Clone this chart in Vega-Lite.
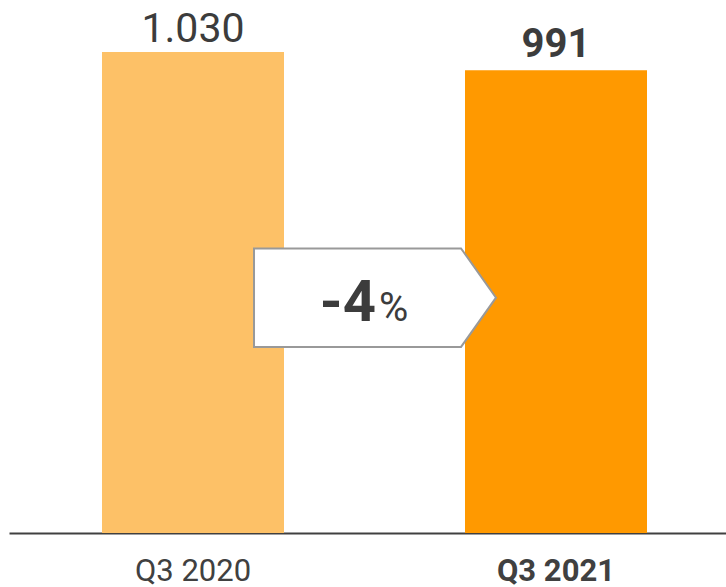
{
  "$schema": "https://vega.github.io/schema/vega-lite/v6.json",
  "width": 717,
  "height": 533,
  "autosize": {"type": "none"},
  "padding": {"left": 9, "top": 0, "right": 0, "bottom": 54},
  "background": "#ffffff",
  "config": {
    "view": {"stroke": null},
    "locale": {
      "number": {"decimal": ",", "thousands": ".", "grouping": [3], "currency": ["", " €"]}
    },
    "axisX": {
      "title": null,
      "labelAngle": 0,
      "ticks": false,
      "tickSize": 0,
      "domainColor": "#404040",
      "domainWidth": 2,
      "labelFont": "Roboto",
      "labelFontSize": 31,
      "labelColor": "#404040",
      "labelBaseline": "alphabetic",
      "labelPadding": 47
    }
  },
  "datasets": {
    "quarters": [
      {"quarter": "Q3 2020", "value": 1030},
      {"quarter": "Q3 2021", "value": 991}
    ],
    "change": [
      {"quarter": "Q3 2020", "pos": 504, "delta": "-4", "unit": "%"}
    ]
  },
  "layer": [
    {
      "data": {"name": "quarters"},
      "mark": {"type": "bar"},
      "encoding": {
        "x": {
          "field": "quarter",
          "type": "nominal",
          "sort": null,
          "scale": {"paddingInner": 0.4986, "paddingOuter": 0.2369, "align": 0.5407},
          "axis": {
            "title": null,
            "labelFontWeight": {
              "condition": {"test": "datum.value === 'Q3 2021'", "value": "bold"},
              "value": "normal"
            }
          }
        },
        "y": {
          "field": "value",
          "type": "quantitative",
          "scale": {"domain": [0, 1141.4], "nice": false, "zero": true},
          "axis": null
        },
        "color": {
          "field": "quarter",
          "type": "nominal",
          "scale": {"domain": ["Q3 2020", "Q3 2021"], "range": ["#FDC167", "#FF9900"]},
          "legend": null
        }
      }
    },
    {
      "data": {"name": "quarters"},
      "transform": [{"filter": "datum.quarter === 'Q3 2020'"}],
      "mark": {
        "type": "text",
        "font": "Roboto",
        "fontSize": 41,
        "fontWeight": "normal",
        "color": "#3c3c3c",
        "baseline": "alphabetic",
        "dy": -10
      },
      "encoding": {
        "x": {"field": "quarter", "type": "nominal", "sort": null},
        "y": {"field": "value", "type": "quantitative"},
        "text": {"field": "value", "type": "quantitative", "format": ",d"}
      }
    },
    {
      "data": {"name": "quarters"},
      "transform": [{"filter": "datum.quarter === 'Q3 2021'"}],
      "mark": {
        "type": "text",
        "font": "Roboto",
        "fontSize": 40,
        "fontWeight": "bold",
        "color": "#3c3c3c",
        "baseline": "alphabetic",
        "dy": -13
      },
      "encoding": {
        "x": {"field": "quarter", "type": "nominal", "sort": null},
        "y": {"field": "value", "type": "quantitative"},
        "text": {"field": "value", "type": "quantitative", "format": ",d"}
      }
    },
    {
      "data": {"name": "change"},
      "mark": {
        "type": "point",
        "shape": "M-1,-0.407L0.711,-0.407L1,0L0.711,0.407L-1,0.407Z",
        "size": 58564,
        "filled": true,
        "fill": "#ffffff",
        "stroke": "#999999",
        "strokeWidth": 2,
        "opacity": 1
      },
      "encoding": {
        "x": {"field": "quarter", "type": "nominal", "sort": null, "bandPosition": 1.5},
        "y": {"field": "pos", "type": "quantitative"}
      }
    },
    {
      "data": {"name": "change"},
      "mark": {
        "type": "text",
        "font": "Roboto",
        "fontSize": 58,
        "fontWeight": "bold",
        "color": "#3c3c3c",
        "align": "right",
        "baseline": "alphabetic",
        "dx": 1,
        "dy": 23.5
      },
      "encoding": {
        "x": {"field": "quarter", "type": "nominal", "sort": null, "bandPosition": 1.5},
        "y": {"field": "pos", "type": "quantitative"},
        "text": {"field": "delta"}
      }
    },
    {
      "data": {"name": "change"},
      "mark": {
        "type": "text",
        "font": "Roboto",
        "fontSize": 40,
        "fontWeight": "normal",
        "color": "#3c3c3c",
        "align": "left",
        "baseline": "alphabetic",
        "dx": 4,
        "dy": 23.5
      },
      "encoding": {
        "x": {"field": "quarter", "type": "nominal", "sort": null, "bandPosition": 1.5},
        "y": {"field": "pos", "type": "quantitative"},
        "text": {"field": "unit"}
      }
    }
  ]
}
